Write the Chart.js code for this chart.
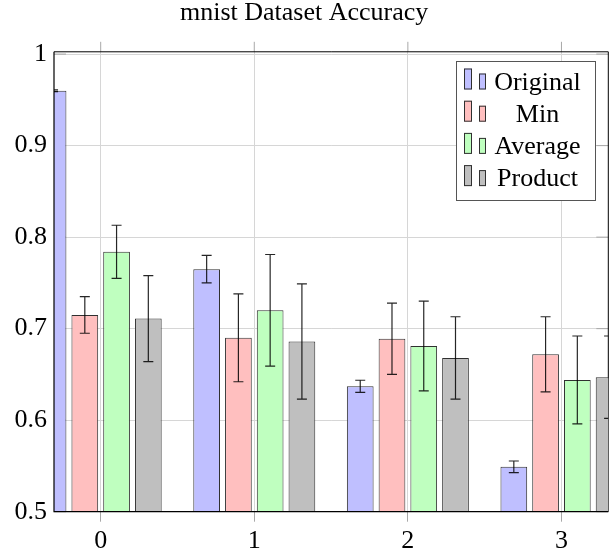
<!DOCTYPE html>
<html>
<head>
<meta charset="utf-8">
<script src="https://cdn.jsdelivr.net/npm/chart.js@4.4.0/dist/chart.umd.min.js"></script>
<style>
  html, body { margin: 0; padding: 0; background: #fff; }
</style>
</head>
<body>
<canvas id="myChart" width="611" height="552"></canvas>
<script>
// data
const categories = [0, 1, 2, 3];
const seriesNames = ["Original", "Min", "Average", "Product"];
const original = [0.960, 0.765, 0.637, 0.549];
const originalErr = [0.001, 0.015, 0.0066, 0.0064];
const minVals = [0.715, 0.690, 0.689, 0.672];
const minErr = [0.020, 0.048, 0.039, 0.041];
const average = [0.784, 0.720, 0.681, 0.644];
const averageErr = [0.029, 0.061, 0.049, 0.048];
const product = [0.711, 0.686, 0.668, 0.647];
const productErr = [0.047, 0.063, 0.045, 0.045];
const yTicks = [0.5, 0.6, 0.7, 0.8, 0.9, 1];

const values = [original, minVals, average, product];
const errors = [originalErr, minErr, averageErr, productErr];
const fills = ["rgb(191,191,255)", "rgb(255,191,191)", "rgb(191,255,191)", "rgb(191,191,191)"];
const edge = "#303030";
const serif = "'Liberation Serif', 'Times New Roman', serif";

Chart.defaults.font.family = serif;
Chart.defaults.color = "#000";

// frame, inner y ticks and outer top x ticks (behind the bars)
const framePlugin = {
  id: "frame",
  beforeDatasetsDraw(chart) {
    const { ctx, chartArea: a, scales } = chart;
    ctx.save();
    ctx.lineWidth = 1;
    ctx.strokeStyle = "#a8a8a8";
    ctx.beginPath();
    yTicks.forEach(t => {
      const y = scales.y.getPixelForValue(t);
      ctx.moveTo(a.left, y); ctx.lineTo(a.left + 12, y);
      ctx.moveTo(a.right - 12, y); ctx.lineTo(a.right, y);
    });
    categories.forEach(c => {
      const x = scales.x.getPixelForValue(c);
      ctx.moveTo(x, a.top - 10); ctx.lineTo(x, a.top);
    });
    ctx.stroke();
    ctx.strokeStyle = "#000";
    ctx.beginPath();
    ctx.moveTo(a.left, a.top); ctx.lineTo(a.right, a.top); ctx.lineTo(a.right, a.bottom);
    ctx.stroke();
    ctx.restore();
  },
  afterDatasetsDraw(chart) {
    const { ctx, chartArea: a, scales } = chart;
    ctx.save();
    ctx.beginPath();
    ctx.rect(a.left, a.top, a.right - a.left, a.bottom - a.top);
    ctx.clip();
    // error bars
    ctx.strokeStyle = "rgba(0,0,0,0.85)";
    ctx.lineWidth = 1.2;
    values.forEach((vals, d) => {
      const meta = chart.getDatasetMeta(d);
      meta.data.forEach((bar, i) => {
        const hi = scales.y.getPixelForValue(vals[i] + errors[d][i]);
        const lo = scales.y.getPixelForValue(vals[i] - errors[d][i]);
        ctx.beginPath();
        ctx.moveTo(bar.x, hi); ctx.lineTo(bar.x, lo);
        ctx.moveTo(bar.x - 5, hi); ctx.lineTo(bar.x + 5, hi);
        ctx.moveTo(bar.x - 5, lo); ctx.lineTo(bar.x + 5, lo);
        ctx.stroke();
      });
    });
    ctx.restore();
    ctx.save();
    ctx.strokeStyle = "#000";
    ctx.lineWidth = 1.2;
    ctx.beginPath();
    ctx.moveTo(a.left, a.top); ctx.lineTo(a.left, a.bottom); ctx.lineTo(a.right, a.bottom);
    ctx.stroke();
    ctx.restore();
  },
  afterDraw(chart) {
    // legend box in the upper right corner
    const ctx = chart.ctx;
    ctx.save();
    ctx.fillStyle = "#fff";
    ctx.fillRect(456, 61, 140, 139);
    ctx.strokeStyle = "#555";
    ctx.lineWidth = 1;
    ctx.strokeRect(456.5, 61.5, 139, 139);
    ctx.font = "26px " + serif;
    ctx.textAlign = "center";
    ctx.textBaseline = "alphabetic";
    seriesNames.forEach((name, i) => {
      const base = 89.5 + i * 32.2;
      ctx.fillStyle = fills[i];
      ctx.fillRect(464, base - 21, 8, 21);
      ctx.fillRect(479, base - 16, 7, 16);
      ctx.strokeStyle = edge;
      ctx.strokeRect(464.5, base - 20.5, 7, 20);
      ctx.strokeRect(479.5, base - 15.5, 6, 15);
      ctx.fillStyle = "#000";
      ctx.fillText(name, 537.5, base);
    });
    ctx.restore();
  }
};

const datasets = seriesNames.map((name, d) => ({
  label: name,
  data: categories.map((c, i) => ({ x: c, y: values[d][i] })),
  backgroundColor: fills[d],
  borderColor: edge,
  borderWidth: 1,
  borderSkipped: false,
  categoryPercentage: 0.827,
  barPercentage: 0.841,
  clip: 0
}));

new Chart(document.getElementById("myChart").getContext("2d"), {
  type: "bar",
  data: { datasets: datasets },
  options: {
    responsive: false,
    animation: false,
    devicePixelRatio: 1,
    layout: { padding: { left: 0, right: 2.7, top: 0, bottom: 0 } },
    plugins: {
      legend: { display: false },
      tooltip: { enabled: false },
      title: {
        display: true,
        text: "mnist Dataset Accuracy",
        color: "#000",
        font: { size: 26, weight: "normal", lineHeight: 0.8 },
        padding: { top: 3, bottom: 28 }
      }
    },
    scales: {
      x: {
        type: "linear",
        offset: false,
        min: -0.304,
        max: 3.305,
        afterBuildTicks: s => { s.ticks = categories.map(v => ({ value: v })); },
        afterFit: s => { s.height = 40.3; },
        ticks: { font: { size: 26 }, padding: 4, callback: v => String(v) },
        grid: { offset: false, color: "#d6d6d6", tickColor: "#a8a8a8", tickLength: 10 },
        border: { display: false }
      },
      y: {
        min: 0.5,
        max: 1.0025,
        afterBuildTicks: s => { s.ticks = yTicks.map(v => ({ value: v })); },
        afterFit: s => { s.width = 54; },
        ticks: { font: { size: 26 }, padding: 7, callback: v => String(+v.toFixed(1)) },
        grid: { color: "#d6d6d6", drawTicks: false },
        border: { display: false }
      }
    }
  },
  plugins: [framePlugin]
});
</script>
</body>
</html>
